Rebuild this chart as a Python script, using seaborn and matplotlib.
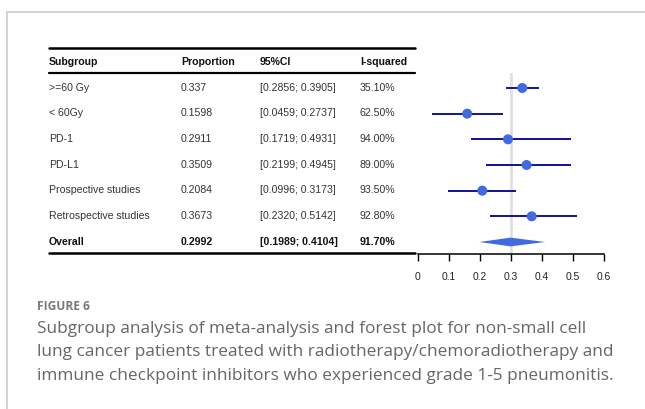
import matplotlib
matplotlib.use("Agg")
import matplotlib.pyplot as plt
import seaborn as sns
import pandas as pd
from matplotlib.lines import Line2D

# data
subgroups = [">=60 Gy", "< 60Gy", "PD-1", "PD-L1", "Prospective studies",
             "Retrospective studies", "Overall"]
proportion = [0.337, 0.1598, 0.2911, 0.3509, 0.2084, 0.3673, 0.2992]
ci_low = [0.2856, 0.0459, 0.1719, 0.2199, 0.0996, 0.2320, 0.1989]
ci_high = [0.3905, 0.2737, 0.4931, 0.4945, 0.3173, 0.5142, 0.4104]
prop_labels = ["0.337", "0.1598", "0.2911", "0.3509", "0.2084", "0.3673", "0.2992"]
i_squared = ["35.10%", "62.50%", "94.00%", "89.00%", "93.50%", "92.80%", "91.70%"]
x_ticks = [0, 0.1, 0.2, 0.3, 0.4, 0.5, 0.6]

df = pd.DataFrame({
    "subgroup": subgroups,
    "prop": proportion,
    "lo": ci_low,
    "hi": ci_high,
})
df["row"] = range(len(df))
df["ci"] = [f"[{lo:.4f}; {hi:.4f}]" for lo, hi in zip(ci_low, ci_high)]

sns.set_style("white")
plt.rcParams["font.family"] = ["Liberation Sans", "DejaVu Sans"]

W, H = 645, 409
fig = plt.figure(figsize=(W / 100, H / 100), dpi=100)


def fx(px):
    return px / W


def fy(py):
    return 1 - py / H


# frame of the figure panel
fig.add_artist(Line2D([fx(7), 1], [fy(12), fy(12)], color="#cccccc", lw=1.2))
fig.add_artist(Line2D([fx(7), fx(7)], [fy(12), 0], color="#cccccc", lw=1.2))

# table
col_x = [49, 181, 260, 360]
headers = ["Subgroup", "Proportion", "95%CI", "I-squared"]
txt_size = 7.6
for x, h in zip(col_x, headers):
    fig.text(fx(x), fy(62), h, fontsize=txt_size, fontweight="bold",
             color="#111111", va="center", ha="left")

row_y = [88, 113.5, 139, 164.5, 190, 216, 242]
n = len(df)
for i, r in df.iterrows():
    last = i == n - 1
    kw = dict(fontsize=txt_size, va="center", ha="left",
              fontweight="bold" if last else "normal",
              color="#111111" if last else "#333333")
    y = fy(row_y[i])
    fig.text(fx(col_x[0]), y, r["subgroup"], **kw)
    fig.text(fx(col_x[1]), y, prop_labels[i], **kw)
    fig.text(fx(col_x[2]), y, r["ci"], **kw)
    fig.text(fx(col_x[3]), y, i_squared[i], **kw)

for py, lw in [(48, 1.8), (72.5, 1.6), (253, 1.8)]:
    fig.add_artist(Line2D([fx(49), fx(415)], [fy(py), fy(py)], color="black", lw=lw))

# forest plot
x0, x1 = 417.5, 604
y_top, y_bot = 73, 253.5
ax = fig.add_axes([fx(x0), fy(y_bot), fx(x1 - x0), (y_bot - y_top) / H])
step = (row_y[-1] - row_y[0]) / (n - 1)
ax.set_ylim(n - 1 + (y_bot - row_y[-1]) / step, -(row_y[0] - y_top) / step)
ax.set_xlim(0, 0.6)

ax.axvline(0.3, color="#dddddd", lw=1.8, zorder=0)

studies = df.iloc[:-1]
ax.hlines(studies["row"], studies["lo"], studies["hi"], color="#00008b", lw=1.3, zorder=2)
sns.scatterplot(data=studies, x="prop", y="row", ax=ax, color="#4169e1",
                s=52, edgecolor="none", zorder=3, legend=False)

ov = df.iloc[-1]
half_h = 0.17
ax.fill([ov["lo"], ov["prop"], ov["hi"], ov["prop"]],
        [ov["row"], ov["row"] - half_h, ov["row"], ov["row"] + half_h],
        color="#4169e1", lw=0, zorder=3)

for s in ["top", "right", "left"]:
    ax.spines[s].set_visible(False)
ax.spines["bottom"].set_color("black")
ax.spines["bottom"].set_linewidth(1.1)
ax.set_yticks([])
ax.set_xticks(x_ticks)
ax.set_xticklabels([f"{t:g}" for t in x_ticks], fontsize=7.4, color="#222222")
ax.tick_params(axis="x", bottom=True, direction="out", length=5, width=1.0,
               color="black", pad=8)
ax.set_xlabel("")
ax.set_ylabel("")
ax.patch.set_alpha(0)

# caption
cap_font = ["Open Sans", "DejaVu Sans"]
fig.text(fx(37), fy(310), "FIGURE 6", fontsize=8.6, fontweight="bold",
         color="#777777", family=cap_font, va="baseline")
caption = ["Subgroup analysis of meta-analysis and forest plot for non-small cell",
           "lung cancer patients treated with radiotherapy/chemoradiotherapy and",
           "immune checkpoint inhibitors who experienced grade 1-5 pneumonitis."]
for k, line in enumerate(caption):
    fig.text(fx(37), fy(333 + 23.5 * k), line, fontsize=12.4, color="#666666",
             family=cap_font, va="baseline")

fig.savefig("out.png", dpi=100)
